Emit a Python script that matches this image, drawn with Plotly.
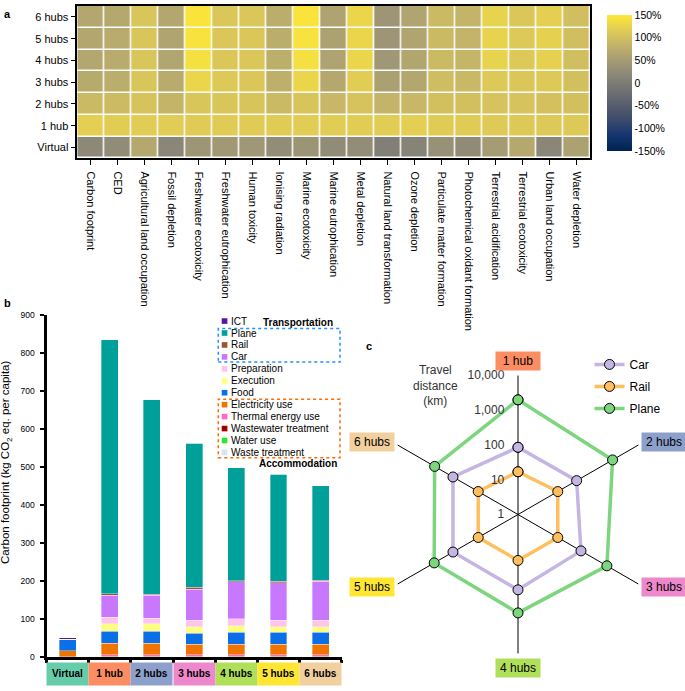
import math
import plotly.graph_objects as go

W, H = 685, 691
FONT = "Liberation Sans, Arial, Helvetica, sans-serif"


def px(x):
    return x / W


def py(y):
    return 1 - y / H


# ---------------- Panel a: relative change heatmap (%) ----------------
impact_categories = [
    "Carbon footprint", "CED", "Agricultural land occupation", "Fossil depletion",
    "Freshwater ecotoxicity", "Freshwater eutrophication", "Human toxicity",
    "Ionising radiation", "Marine ecotoxicity", "Marine eutrophication",
    "Metal depletion", "Natural land transformation", "Ozone depletion",
    "Particulate matter formation", "Photochemical oxidant formation",
    "Terrestrial acidification", "Terrestrial ecotoxicity", "Urban land occupation",
    "Water depletion",
]
scenario_rows = ["Virtual", "1 hub", "2 hubs", "3 hubs", "4 hubs", "5 hubs", "6 hubs"]
change_virtual = [20, 25, 68, 17, 40, 45, 42, 28, 38, 25, 28, 5, 12, 33, 24, 50, 68, 18, 58]
change_1hub = [120, 118, 117, 117, 115, 115, 115, 116, 117, 118, 118, 118, 120, 116, 116, 114, 112, 112, 112]
change_2hubs = [92, 94, 105, 85, 108, 108, 106, 92, 106, 88, 104, 84, 88, 100, 100, 104, 104, 102, 100]
change_3hubs = [70, 74, 108, 72, 128, 112, 110, 78, 128, 68, 118, 56, 66, 96, 90, 112, 110, 112, 100]
change_4hubs = [66, 72, 108, 63, 140, 110, 110, 76, 140, 60, 128, 42, 64, 92, 86, 125, 112, 122, 98]
change_5hubs = [66, 72, 108, 62, 143, 110, 110, 75, 143, 58, 128, 40, 62, 92, 84, 125, 112, 122, 98]
change_6hubs = [66, 68, 108, 66, 145, 110, 110, 75, 145, 60, 128, 40, 62, 92, 84, 125, 110, 120, 98]
colorbar_ticks = [150, 100, 50, 0, -50, -100, -150]
colorbar_labels = ["150%", "100%", "50%", "0", "-50%", "-100%", "-150%"]

# ---------------- Panel b: carbon footprint per capita (kg CO2 eq.) ----------------
bar_scenarios = ["Virtual", "1 hub", "2 hubs", "3 hubs", "4 hubs", "5 hubs", "6 hubs"]
waste_treatment = [0, 0.5, 0.5, 0.5, 0.5, 0.5, 0.5]
water_use = [0, 0.5, 0.5, 0.5, 0.5, 0.5, 0.5]
wastewater_treatment = [0, 1, 1, 1, 1, 1, 1]
thermal_energy_use = [1, 4, 4, 4, 4, 4, 4]
electricity_use = [15, 30, 30, 27.5, 28, 27.5, 27.5]
food = [30, 32, 31.5, 29.5, 31, 31, 31]
execution = [0, 19, 19.5, 17, 17, 15.5, 15.5]
preparation = [0, 17, 15.5, 17, 18, 17, 17]
car = [0, 59, 60, 81, 98, 99, 102]
rail = [0, 3, 3, 5, 3, 3, 3]
plane = [0, 670, 512, 380, 298, 283, 249]
ict = [5, 0, 0, 0, 0, 0, 0]
bar_ticks = [0, 100, 200, 300, 400, 500, 600, 700, 800, 900]

# ---------------- Panel c: travel distance (km) ----------------
travel_hubs = ["1 hub", "2 hubs", "3 hubs", "4 hubs", "5 hubs", "6 hubs"]
car_km = [86, 89, 124, 147, 145, 145]
rail_km = [17, 21, 21, 21, 21, 21]
plane_km = [2000, 1390, 900, 680, 610, 590]
radial_ticks = [1, 10, 100, 1000, 10000]
radial_labels = ["1", "10", "100", "1,000", "10,000"]

# ---------------- styles ----------------
scenario_colors = {
    "Virtual": "#66cdaa", "1 hub": "#fc8d62", "2 hubs": "#8da0cb", "3 hubs": "#ee88cc",
    "4 hubs": "#b0e05a", "5 hubs": "#ffe633", "6 hubs": "#f2cf9e",
}
segment_colors = {
    "Waste treatment": "#cce8fa", "Water use": "#2ee62e", "Wastewater treatment": "#a00000",
    "Thermal energy use": "#ff69c8", "Electricity use": "#ef7400", "Food": "#0b6fe8",
    "Execution": "#ffff80", "Preparation": "#ffc4ec", "Car": "#c878ff", "Rail": "#a0522d",
    "Plane": "#00a09a", "ICT": "#5b14aa",
}
radar_colors = {"Car": "#c5b5e3", "Rail": "#ffbf5e", "Plane": "#7dd57d"}

fig = go.Figure()

# heatmap
fig.add_trace(go.Heatmap(
    z=[change_virtual, change_1hub, change_2hubs, change_3hubs,
       change_4hubs, change_5hubs, change_6hubs],
    x=impact_categories, y=scenario_rows,
    colorscale="Cividis", zmin=-150, zmax=150, xgap=1.5, ygap=1.5,
    xaxis="x", yaxis="y",
    colorbar=dict(
        x=px(607), xanchor="left", xpad=0, y=py(79), yanchor="middle", ypad=0,
        len=136, lenmode="pixels", thickness=25, thicknessmode="pixels",
        outlinewidth=0, tickvals=colorbar_ticks, ticktext=colorbar_labels, ticks="",
        tickfont=dict(size=10.5, color="black"),
    ),
))

# stacked bars
bar_segments = [
    ("Waste treatment", waste_treatment), ("Water use", water_use),
    ("Wastewater treatment", wastewater_treatment), ("Thermal energy use", thermal_energy_use),
    ("Electricity use", electricity_use), ("Food", food), ("Execution", execution),
    ("Preparation", preparation), ("Car", car), ("Rail", rail), ("Plane", plane), ("ICT", ict),
]
for name, vals in bar_segments:
    fig.add_trace(go.Bar(
        x=bar_scenarios, y=vals, name=name, width=0.4,
        marker=dict(color=segment_colors[name], line=dict(width=0.5, color="rgba(255,255,255,0.7)")),
        xaxis="x2", yaxis="y2", showlegend=False,
    ))

# radar
for name, vals in [("Car", car_km), ("Rail", rail_km), ("Plane", plane_km)]:
    fig.add_trace(go.Scatterpolar(
        r=vals + vals[:1], theta=travel_hubs + travel_hubs[:1], mode="lines+markers",
        name=name, legendgroup=name,
        line=dict(color=radar_colors[name], width=3.5),
        marker=dict(size=10, color=radar_colors[name], line=dict(color="black", width=1)),
    ))

annotations = []
shapes = []

# panel letters
for letter, x, y in [("a", 8, 9), ("b", 8, 302), ("c", 369, 346)]:
    annotations.append(dict(text="<b>%s</b>" % letter, x=px(x), y=py(y), xref="paper", yref="paper",
                            showarrow=False, xanchor="center", yanchor="middle",
                            font=dict(size=11, color="black")))

# bar category boxes
for cat in bar_scenarios:
    annotations.append(dict(text="<b>%s</b>" % cat, x=cat, y=py(678.5), xref="x2", yref="paper",
                            showarrow=False, xanchor="center", yanchor="middle",
                            width=41, height=21.5, borderpad=0, bgcolor=scenario_colors[cat],
                            font=dict(size=10, color="black")))

# bar y title
annotations.append(dict(text="Carbon footprint (kg CO<sub>2</sub> eq. per capita)", x=px(6.7), y=py(464),
                        xref="paper", yref="paper", showarrow=False, textangle=-90,
                        xanchor="center", yanchor="middle", font=dict(size=11.5, color="black")))

# custom legend for bars (top to bottom)
legend_order = ["ICT", "Plane", "Rail", "Car", "Preparation", "Execution", "Food",
                "Electricity use", "Thermal energy use", "Wastewater treatment", "Water use",
                "Waste treatment"]
for i, name in enumerate(legend_order):
    yc = 320.7 + i * 12.12
    shapes.append(dict(type="rect", xref="paper", yref="paper", x0=px(221.7), x1=px(227.4),
                       y0=py(yc + 2.85), y1=py(yc - 2.85), fillcolor=segment_colors[name],
                       line=dict(width=0)))
    annotations.append(dict(text=name, x=px(228.5), y=py(yc), xref="paper", yref="paper",
                            showarrow=False, xanchor="left", yanchor="middle",
                            font=dict(size=10, color="black")))
annotations.append(dict(text="<b>Transportation</b>", x=px(298), y=py(321.7), xref="paper", yref="paper",
                        showarrow=False, xanchor="center", yanchor="middle", font=dict(size=10, color="black")))
annotations.append(dict(text="<b>Accommodation</b>", x=px(298), y=py(465.7), xref="paper", yref="paper",
                        showarrow=False, xanchor="center", yanchor="middle", font=dict(size=10, color="black")))
shapes.append(dict(type="rect", xref="paper", yref="paper", x0=px(218.3), x1=px(340), y0=py(362.3), y1=py(328.3),
                   line=dict(color="#1e90ff", width=1.5, dash="dot")))
shapes.append(dict(type="rect", xref="paper", yref="paper", x0=px(218.3), x1=px(340), y0=py(459.3), y1=py(400),
                   line=dict(color="#ff6a00", width=1.5, dash="dot")))

# radar labels placed just beyond the spoke ends
cx, cy, R = 518, 517, 141
for k, hub in enumerate(travel_hubs):
    ang = math.radians(90 - 60 * k)
    ex, ey = cx + R * math.cos(ang), cy - R * math.sin(ang)
    if abs(math.cos(ang)) < 0.01:
        ax_, ay_ = ex, ey + (-5 if math.sin(ang) > 0 else 5)
        xa, ya = "center", ("bottom" if math.sin(ang) > 0 else "top")
    else:
        ax_ = ex + (1 if math.cos(ang) > 0 else -1)
        ay_ = ey + (-3.5 if math.sin(ang) > 0 else 3)
        xa, ya = ("left" if math.cos(ang) > 0 else "right"), "middle"
    annotations.append(dict(text=hub, x=px(ax_), y=py(ay_), xref="paper", yref="paper", showarrow=False,
                            xanchor=xa, yanchor=ya, width=44, height=18, borderpad=0,
                            bgcolor=scenario_colors[hub], font=dict(size=12, color="black")))
annotations.append(dict(text="Travel<br>distance<br>(km)", x=px(435), y=py(386), xref="paper", yref="paper",
                        showarrow=False, xanchor="center", yanchor="middle", align="center",
                        font=dict(size=12, color="#333")))

fig.update_layout(
    width=W, height=H, margin=dict(l=0, r=0, t=0, b=0),
    paper_bgcolor="white", plot_bgcolor="white",
    font=dict(family=FONT, color="black"),
    barmode="stack",
    xaxis=dict(domain=[px(77.3), px(590.3)], anchor="y", tickangle=90, tickfont=dict(size=11),
               ticks="outside", ticklen=5, tickwidth=1, tickcolor="black", showline=True,
               linecolor="black", linewidth=1.5, mirror=True, showgrid=False, zeroline=False,
               ticklabelstandoff=4),
    yaxis=dict(domain=[py(155.7), py(1)], anchor="x", tickfont=dict(size=11),
               ticks="outside", ticklen=5, tickwidth=1, tickcolor="black", showline=True,
               linecolor="black", linewidth=1.5, mirror=True, showgrid=False, zeroline=False),
    xaxis2=dict(domain=[px(46.5), px(341.7)], anchor="y2", type="category", range=[-0.5, 6.5],
                showticklabels=False, tickson="boundaries", ticks="outside", ticklen=3, tickwidth=3,
                tickcolor="black", showline=True, linewidth=3, linecolor="black",
                showgrid=False, zeroline=False),
    yaxis2=dict(domain=[py(661.5), py(315)], anchor="x2", range=[0, 900], tickvals=bar_ticks,
                ticks="outside", ticklen=4, tickwidth=2, tickcolor="black", showline=True,
                linewidth=3, linecolor="black", tickfont=dict(size=8.5), showgrid=False,
                zeroline=False, ticklabelstandoff=3),
    polar=dict(
        domain=dict(x=[px(377), px(659)], y=[py(658), py(376)]), bgcolor="white",
        angularaxis=dict(type="category", categoryarray=travel_hubs, direction="clockwise",
                         rotation=90, showticklabels=False, ticks="", showline=False,
                         showgrid=True, gridcolor="black", gridwidth=1),
        radialaxis=dict(type="log", range=[0, 4], angle=90, tickangle=90, tickvals=radial_ticks,
                        ticktext=radial_labels, showline=False, showgrid=False,
                        ticks="outside", ticklen=9, tickcolor="rgba(0,0,0,0)",
                        side="counterclockwise", tickfont=dict(size=12, color="#333")),
    ),
    legend=dict(x=px(589.5), y=py(350), xanchor="left", yanchor="top", font=dict(size=12),
                bgcolor="rgba(0,0,0,0)", traceorder="grouped", tracegroupgap=3),
    annotations=annotations, shapes=shapes,
)

fig.write_html("out.html", config={"displayModeBar": False},
               post_script="document.body.style.margin='0px';")
